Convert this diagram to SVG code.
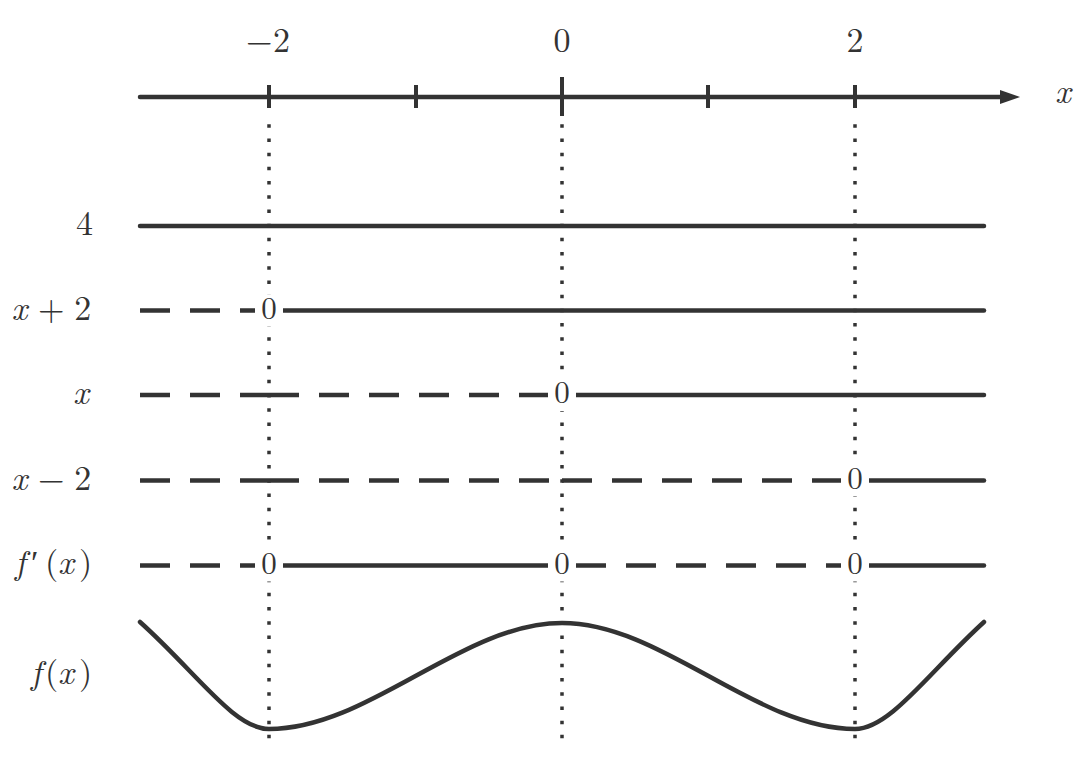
<svg xmlns="http://www.w3.org/2000/svg" width="1088" height="783" viewBox="0 0 1088 783">
<style>
  .ax { stroke:#333; stroke-width:4.5; fill:none; stroke-linecap:round; }
  .tick { stroke:#333; stroke-width:4; }
  .dot { stroke:#333; stroke-width:3.5; stroke-dasharray:3.5 10.7; fill:none; }
  .solid { stroke:#333; stroke-width:4.5; fill:none; stroke-linecap:round; }
  .dash { stroke:#333; stroke-width:4.5; fill:none; stroke-dasharray:30 20; }
  .curve { stroke:#333; stroke-width:4.5; fill:none; stroke-linecap:round; }
  .box { fill:#fff; }
</style>
<defs>
  <marker id="arrow" markerUnits="userSpaceOnUse" markerWidth="24" markerHeight="18" refX="2" refY="9" orient="auto">
    <path d="M0,2 L20,9 L0,16 Z" fill="#333"/>
  </marker>
</defs>

<g id="guides">
  <line class="dot" x1="269" y1="124.25" x2="269" y2="740"/>
  <line class="dot" x1="562" y1="124.25" x2="562" y2="740"/>
  <line class="dot" x1="855" y1="124.25" x2="855" y2="740"/>
</g>

<g id="axis">
  <line class="ax" x1="140" y1="97" x2="1002" y2="97" marker-end="url(#arrow)"/>
  <line class="tick" x1="269" y1="85" x2="269" y2="108"/>
  <line class="tick" x1="416" y1="85" x2="416" y2="108"/>
  <line class="tick" x1="562" y1="77" x2="562" y2="116"/>
  <line class="tick" x1="708" y1="85" x2="708" y2="108"/>
  <line class="tick" x1="855" y1="85" x2="855" y2="108"/>
  <text style="font-family:'Latin Modern Roman','Liberation Serif',serif;font-size:34px;fill:#333"><tspan x="246" y="52">−</tspan><tspan x="273" y="52">2</tspan></text>
  <text style="font-family:'Latin Modern Roman','Liberation Serif',serif;font-size:34px;fill:#333" x="562" y="52" text-anchor="middle">0</text>
  <text style="font-family:'Latin Modern Roman','Liberation Serif',serif;font-size:34px;fill:#333" x="855" y="52" text-anchor="middle">2</text>
  <text style="font-family:'Latin Modern Roman','Liberation Serif',serif;font-size:34px;font-style:italic;fill:#333" x="1055" y="103">x</text>
</g>

<g id="connectors">
  <line class="solid" x1="140" y1="226" x2="984" y2="226"/>
  <line class="dash" x1="140" y1="310.5" x2="269" y2="310.5"/>
  <line class="solid" x1="269" y1="310.5" x2="984" y2="310.5"/>
  <line class="dash" x1="140" y1="395" x2="269" y2="395"/>
  <line class="dash" x1="269" y1="395" x2="562" y2="395"/>
  <line class="solid" x1="562" y1="395" x2="984" y2="395"/>
  <line class="dash" x1="140" y1="480.5" x2="269" y2="480.5"/>
  <line class="dash" x1="269" y1="480.5" x2="562" y2="480.5"/>
  <line class="dash" x1="562" y1="480.5" x2="855" y2="480.5"/>
  <line class="solid" x1="855" y1="480.5" x2="984" y2="480.5"/>
  <line class="dash" x1="140" y1="565.5" x2="269" y2="565.5"/>
  <line class="solid" x1="269" y1="565.5" x2="562" y2="565.5"/>
  <line class="dash" x1="576" y1="565.5" x2="841" y2="565.5"/>
  <line class="solid" x1="855" y1="565.5" x2="984" y2="565.5"/>
  <path class="curve" d="M140,622 C196,672 234,729 269,729 C369,729 462,623 562,623 C662,623 755,729 855,729 C890,729 929,672 984,622"/>
</g>

<g id="zeros">
  <rect class="box" x="255" y="294.5" width="28" height="32"/>
  <text style="font-family:'Latin Modern Roman','Liberation Serif',serif;font-size:31px;fill:#333" x="269" y="318.5" text-anchor="middle">0</text>
  <rect class="box" x="548" y="379" width="28" height="32"/>
  <text style="font-family:'Latin Modern Roman','Liberation Serif',serif;font-size:31px;fill:#333" x="562" y="403" text-anchor="middle">0</text>
  <rect class="box" x="841" y="464.5" width="28" height="32"/>
  <text style="font-family:'Latin Modern Roman','Liberation Serif',serif;font-size:31px;fill:#333" x="855" y="488.5" text-anchor="middle">0</text>
  <rect class="box" x="255" y="549.5" width="28" height="32"/>
  <text style="font-family:'Latin Modern Roman','Liberation Serif',serif;font-size:31px;fill:#333" x="269" y="573.5" text-anchor="middle">0</text>
  <rect class="box" x="548" y="549.5" width="28" height="32"/>
  <text style="font-family:'Latin Modern Roman','Liberation Serif',serif;font-size:31px;fill:#333" x="562" y="573.5" text-anchor="middle">0</text>
  <rect class="box" x="841" y="549.5" width="28" height="32"/>
  <text style="font-family:'Latin Modern Roman','Liberation Serif',serif;font-size:31px;fill:#333" x="855" y="573.5" text-anchor="middle">0</text>
</g>

<g id="row-4">
  <text style="font-family:'Latin Modern Roman','Liberation Serif',serif;font-size:34px;fill:#333" x="93" y="235" text-anchor="end">4</text>
</g>
<g id="row-xplus2">
  <text style="font-family:'Latin Modern Roman','Liberation Serif',serif;font-size:34px;fill:#333"><tspan style="font-style:italic" x="11.5" y="319.5">x</tspan><tspan x="38" y="319.5">+</tspan><tspan x="74.3" y="319.5">2</tspan></text>
</g>
<g id="row-x">
  <text style="font-family:'Latin Modern Roman','Liberation Serif',serif;font-size:34px;font-style:italic;fill:#333" x="73" y="404">x</text>
</g>
<g id="row-xminus2">
  <text style="font-family:'Latin Modern Roman','Liberation Serif',serif;font-size:34px;fill:#333"><tspan style="font-style:italic" x="11.5" y="489.5">x</tspan><tspan x="38" y="489.5">−</tspan><tspan x="74.3" y="489.5">2</tspan></text>
</g>
<g id="row-fprime">
  <text style="font-family:'Latin Modern Roman','Liberation Serif',serif;font-size:34px;fill:#333"><tspan style="font-style:italic" x="15" y="574">f</tspan><tspan x="31" y="574">′</tspan><tspan x="45" y="574">(</tspan><tspan style="font-style:italic" x="58" y="574">x</tspan><tspan x="79" y="574">)</tspan></text>
</g>
<g id="row-f">
  <text style="font-family:'Latin Modern Roman','Liberation Serif',serif;font-size:34px;fill:#333"><tspan style="font-style:italic" x="31" y="684">f</tspan><tspan x="45" y="684">(</tspan><tspan style="font-style:italic" x="58" y="684">x</tspan><tspan x="79" y="684">)</tspan></text>
</g>
</svg>
